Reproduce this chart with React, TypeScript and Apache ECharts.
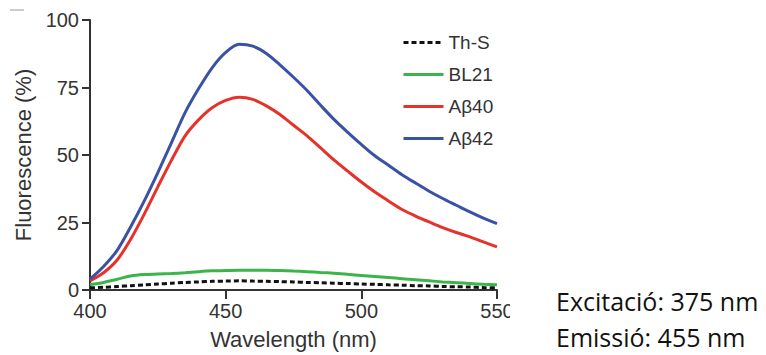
import React, { useEffect, useRef } from "react";
import * as echarts from "echarts";

const wavelengths = [
  400, 405, 410, 415, 420, 425, 430, 435, 440, 445, 450, 455, 460, 465, 470, 475,
  480, 485, 490, 495, 500, 505, 510, 515, 520, 525, 530, 535, 540, 545, 550,
];
const thS = [
  0.8, 1.0, 1.3, 1.6, 1.9, 2.2, 2.5, 2.8, 3.0, 3.2, 3.3, 3.4, 3.3, 3.2, 3.1, 3.0,
  2.8, 2.7, 2.5, 2.4, 2.2, 2.1, 1.9, 1.8, 1.6, 1.5, 1.3, 1.2, 1.1, 0.9, 0.8,
];
const bl21 = [
  2.0, 2.8, 4.0, 5.2, 5.7, 5.9, 6.1, 6.4, 6.8, 7.1, 7.2, 7.3, 7.3, 7.3, 7.2, 7.0,
  6.8, 6.5, 6.2, 5.8, 5.4, 5.0, 4.6, 4.2, 3.8, 3.4, 3.0, 2.7, 2.4, 2.1, 1.9,
];
const ab40 = [
  3.4, 6.4, 11.1, 18.8, 28.1, 38.2, 48.0, 57.0, 63.0, 67.5, 70.2, 71.4, 70.6, 68.2, 65.0, 61.0,
  57.1, 52.6, 48.1, 44.0, 40.0, 36.3, 33.0, 29.8, 27.4, 25.2, 23.1, 21.3, 19.7, 17.8, 16.0,
];
const ab42 = [
  4.0, 8.7, 14.7, 23.4, 33.0, 43.5, 54.5, 65.6, 74.5, 82.3, 88.0, 91.0, 90.3, 87.6, 83.4, 78.8,
  73.9, 68.4, 63.1, 58.4, 53.9, 49.7, 46.2, 42.7, 39.6, 36.6, 33.9, 31.4, 28.9, 26.6, 24.6,
];
const xTicks = [400, 450, 500, 550];
const yTicks = [0, 25, 50, 75, 100];
const seriesNames = ["Th-S", "BL21", "A\u03b240", "A\u03b242"];
const noteLines = ["Excitació: 375 nm", "Emissió: 455 nm"];

const pair = (ys: number[]) => wavelengths.map((w, i) => [w, ys[i]]);

export default function App() {
  const ref = useRef<HTMLDivElement>(null);
  useEffect(() => {
    document.body.style.margin = "0";
    const chart = echarts.init(ref.current!, undefined, { renderer: "svg" });
    const font = "Liberation Sans";
    const mk = (name: string, data: number[], color: string, dashed = false) => ({
      name,
      type: "line",
      data: pair(data),
      smooth: 0.3,
      symbol: "none",
      showSymbol: false,
      lineStyle: { color, width: 3, type: dashed ? [5, 3] : "solid" },
      itemStyle: { color },
    });
    chart.setOption({
      animation: false,
      textStyle: { fontFamily: font },
      grid: { left: 90, right: 269, top: 20, bottom: 63 },
      legend: {
        orient: "vertical",
        left: 397,
        top: 28,
        itemWidth: 40,
        itemHeight: 14,
        itemGap: 13,
        data: seriesNames,
        itemStyle: { opacity: 0 },
        lineStyle: { width: 3 },
        textStyle: { fontSize: 19, color: "#333", fontFamily: font },
      },
      xAxis: {
        type: "value",
        min: 400,
        max: 550,
        interval: 50,
        name: "Wavelength (nm)",
        nameLocation: "middle",
        nameGap: 38,
        nameTextStyle: { fontSize: 22, color: "#333", fontFamily: font },
        axisLine: { lineStyle: { color: "#333", width: 2 } },
        axisTick: { length: 9, lineStyle: { color: "#333", width: 2 } },
        axisLabel: {
          fontSize: 20,
          color: "#333",
          margin: 11,
          formatter: (v: number) => (xTicks.includes(v) ? String(v) : ""),
        },
        splitLine: { show: false },
      },
      yAxis: {
        type: "value",
        min: 0,
        max: 100,
        interval: 25,
        name: "Fluorescence (%)",
        nameLocation: "middle",
        nameGap: 56,
        nameTextStyle: { fontSize: 22, color: "#333", fontFamily: font },
        axisLine: { show: true, lineStyle: { color: "#333", width: 2 } },
        axisTick: { show: true, length: 8, lineStyle: { color: "#333", width: 2 } },
        axisLabel: {
          fontSize: 20,
          color: "#333",
          margin: 11,
          formatter: (v: number) => (yTicks.includes(v) ? String(v) : ""),
        },
        splitLine: { show: false },
      },
      series: [
        mk(seriesNames[0], thS, "#111111", true),
        mk(seriesNames[1], bl21, "#3bb54a"),
        mk(seriesNames[2], ab40, "#e5322b"),
        mk(seriesNames[3], ab42, "#3a52a3"),
      ],
      graphic: [
        { type: "rect", shape: { x: 510, y: 298, width: 40, height: 30 }, style: { fill: "#fff" }, z: 100 },
        { type: "line", shape: { x1: 10, y1: 10, x2: 24, y2: 10 }, style: { stroke: "#bbb", lineWidth: 1.5 } },
        {
          type: "text",
          x: 556,
          y: 301,
          style: { text: noteLines[0], font: "25px 'Open Sans'", fill: "#111", textVerticalAlign: "middle" },
          z: 101,
        },
        {
          type: "text",
          x: 556,
          y: 337,
          style: { text: noteLines[1], font: "25px 'Open Sans'", fill: "#111", textVerticalAlign: "middle" },
          z: 101,
        },
      ],
    });
    return () => chart.dispose();
  }, []);
  return <div ref={ref} style={{ width: 766, height: 355 }} />;
}
